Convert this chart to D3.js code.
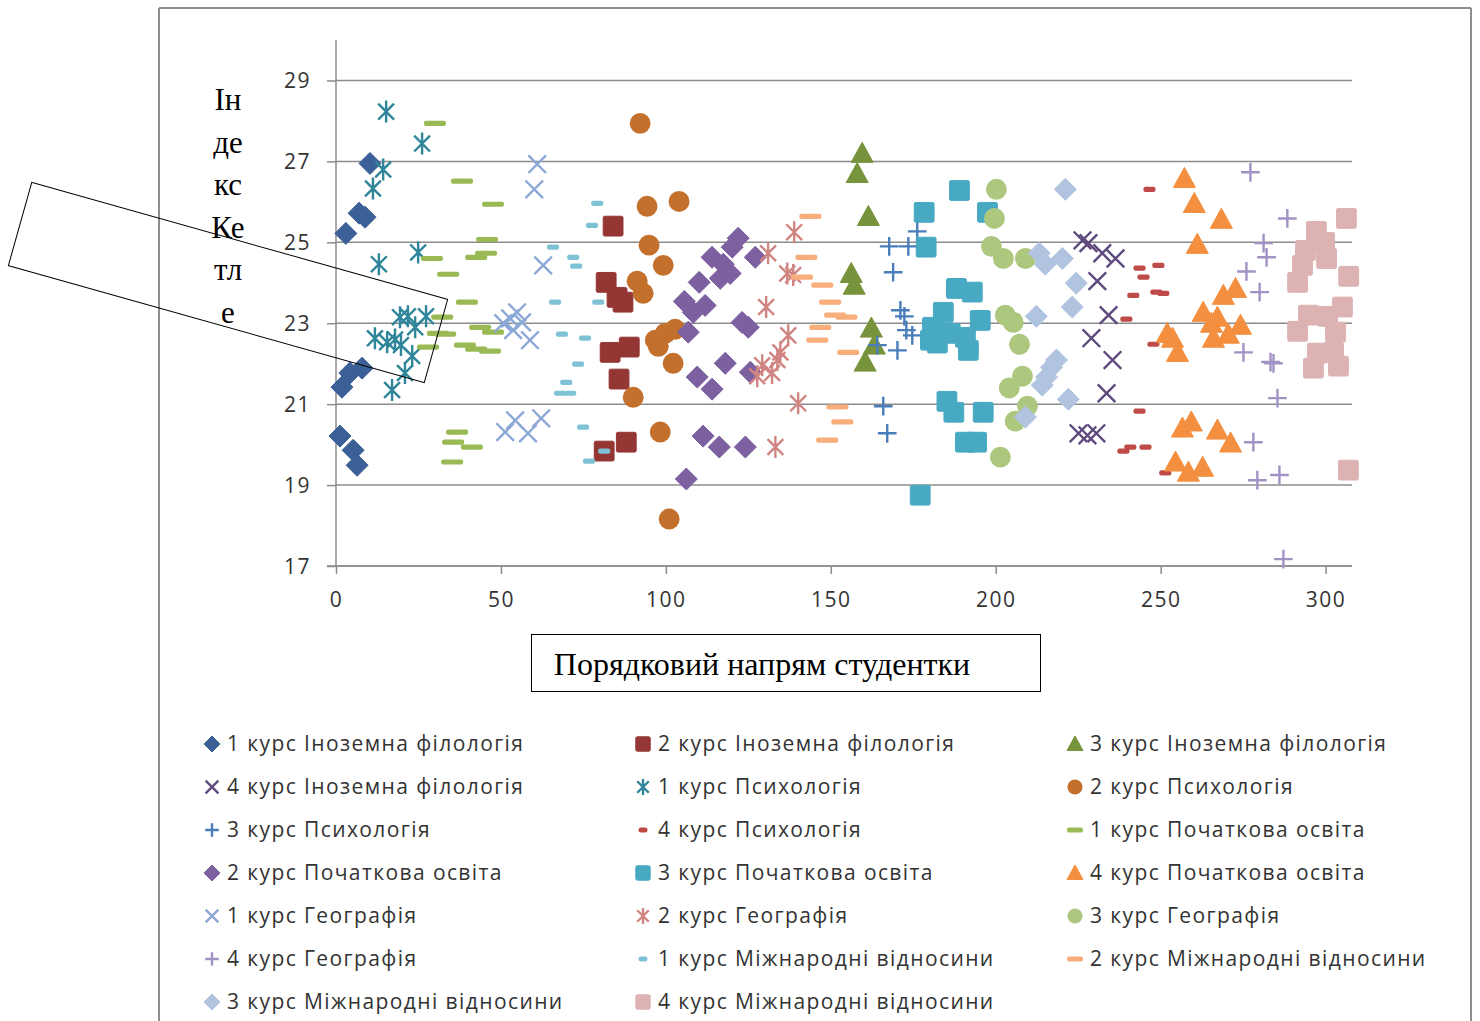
<!DOCTYPE html>
<html>
<head>
<meta charset="utf-8">
<script src="https://cdn.jsdelivr.net/npm/d3@7"></script>
<style>
  html, body { margin: 0; padding: 0; background: #fff; }
  svg { display: block; }
</style>
</head>
<body>
<svg id="chart" width="1480" height="1021"></svg>
<script>
// ---- Series names (legend order) ----
const seriesNames = [
  "1 курс Іноземна філологія", "2 курс Іноземна філологія", "3 курс Іноземна філологія",
  "4 курс Іноземна філологія", "1 курс Психологія", "2 курс Психологія",
  "3 курс Психологія", "4 курс Психологія", "1 курс Початкова освіта",
  "2 курс Початкова освіта", "3 курс Початкова освіта", "4 курс Початкова освіта",
  "1 курс Географія", "2 курс Географія", "3 курс Географія",
  "4 курс Географія", "1 курс Міжнародні відносини", "2 курс Міжнародні відносини",
  "3 курс Міжнародні відносини", "4 курс Міжнародні відносини"
];

// ---- Points per series: [порядковий номер, індекс Кетле] ----
const s1 = [[10.3,26.95],[7.0,25.72],[8.8,25.62],[3.0,25.22],[7.9,21.89],[4.2,21.77],[1.8,21.42],[1.2,20.21],[5.2,19.86],[6.4,19.49]];
const s2 = [[84.0,25.40],[81.9,24.01],[85.2,23.64],[87.0,23.52],[83.1,22.28],[88.9,22.41],[85.8,21.62],[81.3,19.84],[88.0,20.06]];
const s3 = [[159.5,27.20],[158.0,26.70],[161.4,25.64],[156.2,24.23],[157.1,23.94],[162.3,22.88],[163.2,22.46],[160.4,22.04]];
const s4 = [[226.3,25.05],[228.1,24.98],[232.3,24.73],[236.3,24.60],[230.8,24.04],[234.2,23.20],[229.0,22.63],[235.4,22.09],[233.6,21.27],[225.1,20.28],[227.8,20.23],[230.5,20.28]];
const s5 = [[15.2,28.23],[26.1,27.44],[14.3,26.80],[11.2,26.33],[13.0,24.46],[24.9,24.75],[19.4,23.15],[21.8,23.17],[27.3,23.17],[24.0,22.90],[11.8,22.63],[15.5,22.53],[17.9,22.60],[19.7,22.46],[23.1,22.19],[20.9,21.77],[17.0,21.35]];
const s6 = [[92.2,27.94],[94.3,25.89],[104.0,26.01],[94.9,24.93],[99.2,24.43],[91.3,24.04],[93.1,23.74],[99.8,22.75],[102.8,22.85],[96.8,22.58],[97.7,22.43],[102.2,22.01],[90.1,21.17],[98.3,20.31],[101.0,18.16]];
const s7 = [[176.2,25.27],[167.7,24.90],[173.5,24.90],[168.9,24.26],[171.1,23.32],[172.3,23.17],[172.9,22.83],[174.7,22.70],[164.1,22.46],[170.2,22.33],[165.9,20.95],[167.1,20.28]];
const s8 = [[246.6,26.31],[243.6,24.36],[249.3,24.43],[244.8,24.14],[241.7,23.69],[248.7,23.77],[250.8,23.74],[239.6,23.10],[247.8,22.48],[243.6,20.83],[238.7,19.84],[240.8,19.94],[245.4,19.94],[251.4,19.30]];
const s9 = [[30.0,27.94],[38.2,26.51],[47.6,25.94],[45.8,25.07],[29.1,24.60],[34.0,24.21],[42.5,24.63],[45.5,24.73],[39.7,23.52],[32.2,23.15],[43.7,22.90],[47.6,22.78],[30.9,22.75],[33.1,22.73],[27.9,22.41],[39.1,22.46],[42.5,22.36],[46.7,22.31],[36.7,20.31],[35.5,20.06],[41.2,19.94],[35.2,19.57]];
const s10 = [[121.9,25.10],[120.1,24.88],[114.0,24.63],[117.4,24.46],[119.5,24.23],[116.5,24.11],[110.1,24.01],[127.1,24.63],[105.6,23.54],[108.3,23.27],[111.9,23.44],[123.1,23.02],[125.0,22.90],[106.8,22.78],[118.0,22.01],[109.5,21.67],[114.0,21.37],[125.6,21.79],[111.3,20.21],[116.2,19.94],[124.1,19.94],[106.2,19.15]];
const s11 = [[189.0,26.28],[197.5,25.74],[178.3,25.74],[178.9,24.88],[188.1,23.86],[192.9,23.77],[184.1,23.27],[195.3,23.07],[180.8,22.90],[182.3,22.51],[186.2,22.75],[190.8,22.65],[191.7,22.33],[180.2,22.58],[185.2,21.07],[187.3,20.80],[196.2,20.80],[190.8,20.06],[194.2,20.06],[177.1,18.75]];
const s12 = [[257.2,26.58],[260.2,25.96],[268.4,25.57],[261.1,24.95],[272.7,23.86],[269.0,23.69],[262.9,23.27],[267.2,23.15],[265.4,23.00],[274.2,22.95],[266.0,22.63],[270.5,22.73],[252.0,22.75],[253.6,22.63],[255.1,22.28],[256.6,20.41],[259.3,20.56],[267.2,20.36],[271.2,20.04],[254.5,19.57],[258.4,19.32],[262.7,19.44]];
const s13 = [[61.0,26.93],[60.1,26.31],[62.8,24.43],[50.7,23.00],[52.8,23.12],[54.9,23.27],[56.4,23.02],[53.7,22.83],[58.8,22.58],[51.3,20.31],[54.3,20.60],[58.2,20.28],[62.2,20.65]];
const s14 = [[138.9,25.25],[131.0,24.73],[136.8,24.23],[138.6,24.19],[130.4,23.40],[137.1,22.70],[134.7,22.28],[133.8,22.09],[129.2,21.96],[132.2,21.77],[127.7,21.69],[140.1,21.02],[133.2,19.94]];
const s15 = [[200.2,26.31],[199.6,25.59],[198.7,24.90],[202.3,24.60],[209.0,24.60],[202.9,23.20],[205.3,23.02],[207.2,22.48],[204.1,21.40],[208.1,21.69],[209.6,20.95],[205.9,20.58],[201.4,19.69]];
const s16 = [[277.2,26.73],[288.4,25.59],[281.2,24.98],[282.1,24.63],[276.0,24.28],[280.0,23.77],[275.1,22.28],[283.3,22.04],[284.2,22.01],[285.4,21.15],[278.1,20.06],[279.3,19.12],[286.0,19.25],[287.2,17.17]];
const s17 = [[79.2,25.96],[77.6,25.42],[65.8,24.88],[71.9,24.63],[72.8,24.41],[66.4,23.52],[79.5,23.52],[68.5,22.73],[75.5,22.63],[73.4,21.99],[69.8,21.54],[67.9,21.27],[71.0,21.27],[74.9,20.43],[81.3,19.84],[76.7,19.59]];
const s18 = [[143.8,25.64],[142.6,24.63],[141.3,24.14],[147.4,23.94],[149.8,23.52],[151.3,23.20],[154.7,23.15],[146.8,22.90],[145.9,22.58],[155.3,22.28],[152.0,20.93],[153.5,20.56],[148.9,20.11]];
const s19 = [[221.1,26.31],[213.2,24.73],[215.0,24.46],[220.2,24.60],[224.4,23.99],[223.2,23.40],[212.3,23.17],[218.4,22.09],[216.9,21.91],[215.4,21.67],[214.1,21.47],[222.0,21.12],[209.0,20.68]];
const s20 = [[306.3,25.59],[297.2,25.27],[299.7,25.00],[293.9,24.80],[300.3,24.60],[293.0,24.43],[291.5,24.01],[307.0,24.16],[305.1,23.40],[294.8,23.20],[300.6,23.17],[291.5,22.80],[303.0,22.78],[297.5,22.26],[302.4,22.28],[296.3,21.89],[303.9,21.94],[306.9,19.37]];

const seriesPoints = [s1,s2,s3,s4,s5,s6,s7,s8,s9,s10,s11,s12,s13,s14,s15,s16,s17,s18,s19,s20];

// ---- Axis ticks ----
const xTicks = [0, 50, 100, 150, 200, 250, 300];
const yTicks = [17, 19, 21, 23, 25, 27, 29];

// ---- Marker kinds and colours, one per series ----
const markerKinds = ["diamond","square","triangle","x","star","circle","plus","dash","longdash",
                     "diamond","square","triangle","x","star","circle","plus","dash","longdash",
                     "diamond","square"];
const seriesColors = ["#3B6098","#943634","#77933C","#5F4A7E","#2F8599","#C4702D",
                      "#4A7EBB","#BE4B48","#98B954","#7D60A0","#48A9C3","#F38F3F",
                      "#8BA8D6","#D18583","#ADC77F","#A292C4","#7FC2D6","#F8AE7A",
                      "#B0C4E0","#DDB2B2"];

const svg = d3.select("#chart");
const tickFont = "21px 'Open Sans', sans-serif";

// Outer chart frame
const frame = svg.append("g").attr("fill", "none").attr("stroke", "#8e8e8e").attr("stroke-width", 2);
frame.append("line").attr("x1", 159).attr("y1", 8).attr("x2", 159).attr("y2", 1021);
frame.append("line").attr("x1", 159).attr("y1", 8).attr("x2", 1471).attr("y2", 8);
frame.append("line").attr("x1", 1471).attr("y1", 8).attr("x2", 1471).attr("y2", 1021);

// Plot area
const plot = { left: 336, right: 1352, top: 40, bottom: 566 };
const x = d3.scaleLinear().domain([0, 308]).range([plot.left, plot.right]);
const y = d3.scaleLinear().domain([17, 30]).range([plot.bottom, plot.top]);

// Horizontal gridlines
svg.append("g")
  .selectAll("line")
  .data(yTicks)
  .join("line")
  .attr("x1", plot.left).attr("x2", plot.right)
  .attr("y1", d => y(d)).attr("y2", d => y(d))
  .attr("stroke", "#8c8c8c").attr("stroke-width", 1.5);

// Y axis
const yAxis = svg.append("g")
  .attr("transform", `translate(${plot.left},0)`)
  .call(d3.axisLeft(y).tickValues(yTicks).tickSize(9).tickPadding(16).tickFormat(d3.format("d")));
yAxis.select(".domain").attr("stroke", "#8c8c8c").attr("stroke-width", 1.5)
  .attr("d", `M0,${plot.top}V${plot.bottom}`);
yAxis.selectAll(".tick line").attr("stroke", "#8c8c8c").attr("stroke-width", 1.5);
yAxis.selectAll(".tick text").attr("fill", "#333").style("font", tickFont)
  .style("letter-spacing", "1.5px").attr("dy", "0.35em");

// X axis
const xAxis = svg.append("g")
  .attr("transform", `translate(0,${plot.bottom})`)
  .call(d3.axisBottom(x).tickValues(xTicks).tickSize(8).tickPadding(18).tickFormat(d3.format("d")));
xAxis.select(".domain").attr("stroke", "#8c8c8c").attr("stroke-width", 1.5)
  .attr("d", `M${plot.left - 9},0H${plot.right}`);
xAxis.selectAll(".tick line").attr("stroke", "#8c8c8c").attr("stroke-width", 1.5);
xAxis.selectAll(".tick text").attr("fill", "#333").style("font", tickFont)
  .style("letter-spacing", "1.5px");

// Marker drawing helper
function drawMarker(g, kind, color, s) {
  // s = half-size of the marker in px
  switch (kind) {
    case "diamond":
      g.append("path").attr("d", `M0,${-s}L${s},0L0,${s}L${-s},0Z`).attr("fill", color)
        .attr("stroke", color).attr("stroke-width", 1).attr("stroke-linejoin", "round");
      break;
    case "square":
      g.append("rect").attr("x", -s * 0.9).attr("y", -s * 0.9).attr("width", s * 1.8).attr("height", s * 1.8)
        .attr("rx", 1.5).attr("fill", color).attr("stroke", color).attr("stroke-width", 1);
      break;
    case "triangle":
      g.append("path").attr("d", `M0,${-s}L${s},${s * 0.82}L${-s},${s * 0.82}Z`).attr("fill", color)
        .attr("stroke", color).attr("stroke-width", 1).attr("stroke-linejoin", "round");
      break;
    case "circle":
      g.append("circle").attr("r", s * 0.95).attr("fill", color);
      break;
    case "x": {
      const a = s * 0.8;
      g.append("path").attr("d", `M${-a},${-a}L${a},${a}M${-a},${a}L${a},${-a}`)
        .attr("stroke", color).attr("stroke-width", 2.4).attr("fill", "none");
      break;
    }
    case "star": {
      const a = s * 0.72;
      g.append("path").attr("d", `M${-a},${-a}L${a},${a}M${-a},${a}L${a},${-a}M0,${-s}L0,${s}`)
        .attr("stroke", color).attr("stroke-width", 2.4).attr("fill", "none");
      break;
    }
    case "plus": {
      const a = s * 0.85;
      g.append("path").attr("d", `M${-a},0L${a},0M0,${-a}L0,${a}`)
        .attr("stroke", color).attr("stroke-width", 2.4).attr("fill", "none");
      break;
    }
    case "dash":
      g.append("rect").attr("x", -s * 0.55).attr("y", -2.6).attr("width", s * 1.1).attr("height", 5.2)
        .attr("rx", 2).attr("fill", color);
      break;
    case "longdash":
      g.append("rect").attr("x", -s).attr("y", -2.6).attr("width", s * 2).attr("height", 5.2)
        .attr("rx", 2).attr("fill", color);
      break;
  }
}

// Data markers, series drawn in order
const marks = svg.append("g");
seriesPoints.forEach((pts, i) => {
  const sg = marks.append("g").attr("class", "series");
  sg.selectAll("g")
    .data(pts)
    .join("g")
    .attr("transform", d => `translate(${x(d[0])},${y(d[1])})`)
    .each(function () { drawMarker(d3.select(this), markerKinds[i], seriesColors[i], 11); });
});

// Y axis title: stacked word fragments
const yTitleLines = ["Ін", "де", "кс", "Ке", "тл", "е"];
svg.append("text")
  .attr("x", 228).attr("y", 110)
  .attr("text-anchor", "middle")
  .style("font", "31px 'Liberation Serif', 'Times New Roman', serif")
  .attr("fill", "#000")
  .selectAll("tspan")
  .data(yTitleLines)
  .join("tspan")
  .attr("x", 228)
  .attr("dy", (d, i) => i === 0 ? 0 : 42.6)
  .text(d => d);

// Tilted empty text frame beside the y title
svg.append("rect")
  .attr("x", -216).attr("y", -43.2).attr("width", 432).attr("height", 86.4)
  .attr("transform", "translate(228,282.5) rotate(15.7)")
  .attr("fill", "none").attr("stroke", "#000").attr("stroke-width", 1);

// X axis title in a framed box
svg.append("rect")
  .attr("x", 531.5).attr("y", 634.5).attr("width", 509).attr("height", 57)
  .attr("fill", "#fff").attr("stroke", "#000").attr("stroke-width", 1);
svg.append("text")
  .attr("x", 762).attr("y", 675)
  .attr("text-anchor", "middle")
  .style("font", "32px 'Liberation Serif', 'Times New Roman', serif")
  .attr("fill", "#000")
  .text("Порядковий напрям студентки");

// Legend: 3 columns x 7 rows
const legendCols = [212, 643, 1075];
const legendRow0 = 744, legendRowStep = 43;
const legend = svg.append("g");
seriesNames.forEach((name, i) => {
  const col = i % 3, row = Math.floor(i / 3);
  const lg = legend.append("g")
    .attr("transform", `translate(${legendCols[col]},${legendRow0 + row * legendRowStep})`);
  const mg = lg.append("g");
  drawMarker(mg, markerKinds[i], seriesColors[i], 8);
  lg.append("text")
    .attr("x", 15).attr("y", 0).attr("dy", "0.35em")
    .style("font", "21px 'Open Sans', sans-serif")
    .style("letter-spacing", "1.4px")
    .attr("fill", "#333")
    .text(name);
});
</script>
</body>
</html>
